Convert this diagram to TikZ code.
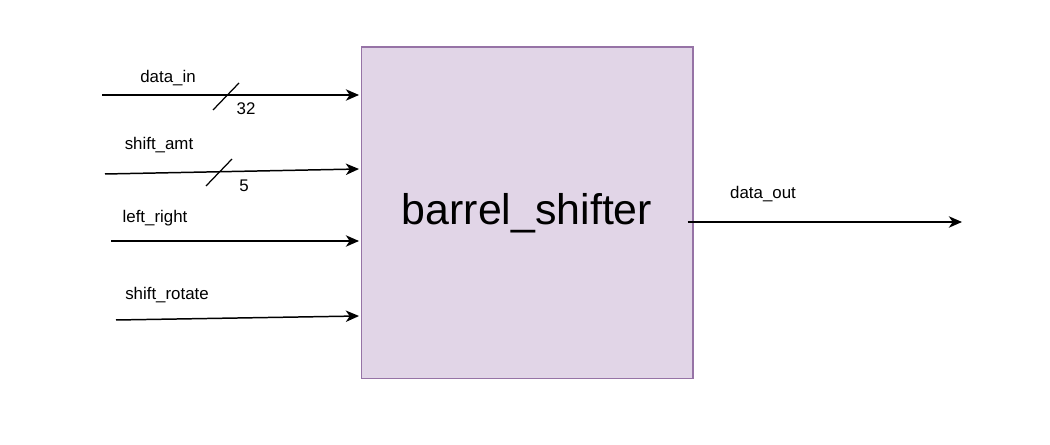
\documentclass[tikz,border=0pt]{standalone}
\usepackage{fontspec}
\setmainfont{Liberation Sans}
\usetikzlibrary{arrows.meta}
\definecolor{boxfill}{HTML}{E1D5E7}
\definecolor{boxline}{HTML}{9673A6}

\begin{document}
\begin{tikzpicture}[x=0.02cm,y=-0.02cm]
\tikzstyle{block} = [draw=boxline, fill=boxfill, line width=0.6pt, minimum width=6.64cm, minimum height=6.64cm, inner sep=0pt, font=\fontsize{24.4}{28}\selectfont]
\tikzstyle{wire} = [draw=black, line width=0.85pt, -{Stealth[length=7.5pt,width=6.5pt,inset=2.2pt]}]
\tikzstyle{busmark} = [draw=black, line width=0.7pt]
\tikzstyle{lbl} = [inner sep=0pt, font=\fontsize{9.6}{11}\selectfont]

\useasboundingbox (0,0) rectangle (1050,445);

\node[block] (bs) at (527,213) {barrel\_shifter};

\coordinate (din) at (102,95);
\coordinate (amt) at (105,174);
\coordinate (lr) at (111,241);
\coordinate (rot) at (116,320);
\coordinate (dout) at (962,222);

\draw[wire] (din) -- ([xshift=-0.03cm]bs.west |- 0,95);
\draw[wire] (amt) -- ([xshift=-0.03cm]bs.west |- 0,169);
\draw[wire] (lr) -- ([xshift=-0.03cm]bs.west |- 0,241);
\draw[wire] (rot) -- ([xshift=-0.03cm]bs.west |- 0,316);
\draw[wire] (bs.east |- 0,222) ++(-6,0) -- (dout);

\draw[busmark] (213,110) -- (239,83);
\draw[busmark] (206,186) -- (232,159);

\node[lbl] (ldin) at (168,78) {data\_in};
\node[lbl] (w32) at (246,109) {32};
\node[lbl] (lamt) at (159,145) {shift\_amt};
\node[lbl] (w5) at (244,186) {5};
\node[lbl] (llr) at (155,218) {left\_right};
\node[lbl] (lrot) at (167,295) {shift\_rotate};
\node[lbl] (ldout) at (763,194) {data\_out};
\end{tikzpicture}
\end{document}
